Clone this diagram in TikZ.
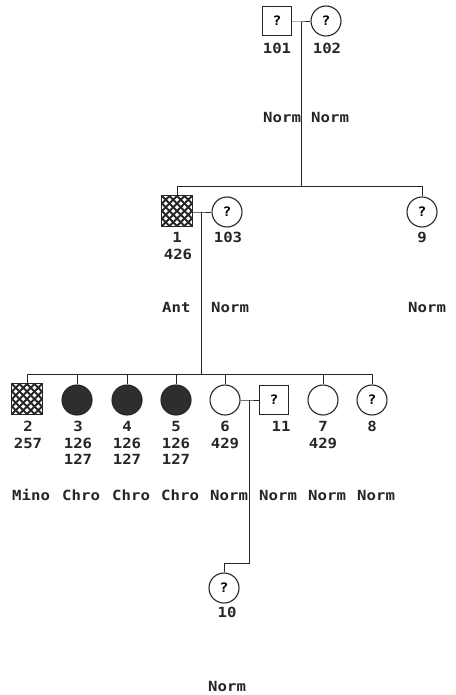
\documentclass[tikz,border=0pt]{standalone}
\usepackage{fontspec}
\newfontfamily\pedfont[FakeStretch=1.12]{DejaVu Sans Mono}
\begin{document}
\begin{tikzpicture}[x=1pt,y=-1pt,
  ind/.style={draw=black!85, line width=1.1pt, inner sep=0pt, minimum size=30pt,
     font=\pedfont\bfseries\fontsize{13}{13}\selectfont},
  male/.style={ind, rectangle, minimum size=29pt},
  female/.style={ind, circle},
  hatched/.style={path picture={
     \foreach \k in {-52.5,-45,...,52.5}{
       \draw[line width=1.8pt, black!85] ([shift={(\k pt-22pt,22pt)}]path picture bounding box.center) -- ++(44pt,-44pt);
       \draw[line width=1.8pt, black!85] ([shift={(\k pt+22pt,22pt)}]path picture bounding box.center) -- ++(-44pt,-44pt);
     }}},
  filled/.style={fill=black!82},
  lbl/.style={font=\pedfont\bfseries\fontsize{14}{14}\selectfont, inner sep=0pt, text=black!85},
  ln/.style={line width=1pt, draw=black!85}]
\useasboundingbox (0,0) rectangle (455,695);

% generation 1
\node[male] (i101) at (277,21) {?};
\node[female] (i102) at (326,21) {?};
\node[lbl] (t101) at (277,48) {101};
\node[lbl] (t102) at (327,48) {102};
\node[lbl,anchor=west] (s101) at (263,117) {Norm};
\node[lbl,anchor=west] (s102) at (311,117) {Norm};
\coordinate (m1) at (301,22);
\coordinate (d1) at (301,186);
\draw[ln] (i101.east |- m1) -- (m1) -- (i102.west |- m1);
\draw[ln] (m1) -- (d1);

% generation 2
\node[male,hatched,minimum size=31pt] (i1) at (177,211) {};
\node[female] (i103) at (227,212) {?};
\node[female] (i9) at (422,212) {?};
\node[lbl] (t1) at (177,237) {1};
\node[lbl] (t1b) at (178,254) {426};
\node[lbl] (t103) at (228,237) {103};
\node[lbl] (t9) at (422,237) {9};
\node[lbl,anchor=west] (s1) at (162,307) {Ant};
\node[lbl,anchor=west] (s103) at (211,307) {Norm};
\node[lbl,anchor=west] (s9) at (408,307) {Norm};
\coordinate (g2l) at (177,186);
\coordinate (g2r) at (422,186);
\draw[ln] (g2l) -- (g2r);
\draw[ln] (g2l) -- (i1.north);
\draw[ln] (g2r) -- (i9.north);
\coordinate (m2) at (201,212);
\coordinate (d2) at (201,374);
\draw[ln] (i1.east |- m2) -- (m2) -- (i103.west |- m2);
\draw[ln] (m2) -- (d2);

% generation 3
\node[male,hatched,minimum size=31pt] (i2) at (27,399) {};
\node[female,filled] (i3) at (77,400) {};
\node[female,filled] (i4) at (127,400) {};
\node[female,filled] (i5) at (176,400) {};
\node[female] (i6) at (225,400) {};
\node[male] (i11) at (274,400) {?};
\node[female] (i7) at (323,400) {};
\node[female] (i8) at (372,400) {?};
\foreach \n/\x/\a/\b/\c in {2/28/2/257/,3/78/3/126/127,4/127/4/126/127,5/176/5/126/127,6/225/6/429/,7/323/7/429/}{
  \node[lbl] (n\n a) at (\x,426) {\a};
  \node[lbl] (n\n b) at (\x,443) {\b};
  \node[lbl] (n\n c) at (\x,459) {\c};
}
\node[lbl] (n11) at (281,426) {11};
\node[lbl] (n8) at (372,426) {8};
\node[lbl,anchor=west] (s2) at (12,495) {Mino};
\node[lbl,anchor=west] (s3) at (62,495) {Chro};
\node[lbl,anchor=west] (s4) at (112,495) {Chro};
\node[lbl,anchor=west] (s5) at (161,495) {Chro};
\node[lbl,anchor=west] (s6) at (210,495) {Norm};
\node[lbl,anchor=west] (s11) at (259,495) {Norm};
\node[lbl,anchor=west] (s7) at (308,495) {Norm};
\node[lbl,anchor=west] (s8) at (357,495) {Norm};
\coordinate (g3l) at (27,374);
\coordinate (g3r) at (372,374);
\draw[ln] (g3l) -- (g3r);
\foreach \i in {i2,i3,i4,i5,i6,i7,i8}{
  \draw[ln] (\i.north |- g3l) -- (\i.north);
}
\coordinate (m3) at (249,400);
\coordinate (k3) at (249,563);
\draw[ln] (i6.east) -- (m3) -- (i11.west |- m3);

% generation 4
\node[female] (i10) at (224,588) {?};
\node[lbl] (t10) at (227,612) {10};
\node[lbl,anchor=west] (s10) at (208,686) {Norm};
\draw[ln] (m3) -- (k3) -- (i10.north |- k3) -- (i10.north);
\end{tikzpicture}
\end{document}
